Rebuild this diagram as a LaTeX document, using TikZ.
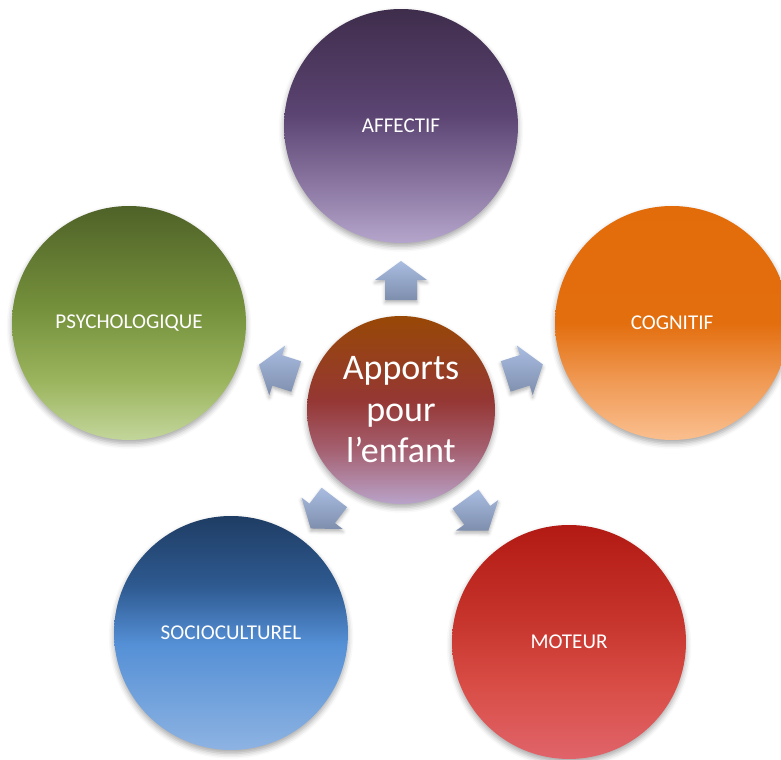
\documentclass[tikz,border=0pt]{standalone}
\usepackage{fontspec}
\setmainfont{Carlito}
\usepackage{tikz}
\usetikzlibrary{calc,shadows.blur}

% colours of the bubbles, top to bottom
\definecolor{affA}{HTML}{3F2D4C}
\definecolor{affB}{HTML}{5B4472}
\definecolor{affC}{HTML}{8B77A2}
\definecolor{affD}{HTML}{B5A5CB}
\definecolor{cogA}{HTML}{E36C0A}
\definecolor{cogB}{HTML}{E36E0E}
\definecolor{cogC}{HTML}{F09A55}
\definecolor{cogD}{HTML}{FABF8F}
\definecolor{psyA}{HTML}{4F6228}
\definecolor{psyB}{HTML}{76923C}
\definecolor{psyC}{HTML}{9BB55E}
\definecolor{psyD}{HTML}{C3D69B}
\definecolor{socA}{HTML}{1F3D64}
\definecolor{socB}{HTML}{2E5A91}
\definecolor{socC}{HTML}{5590D6}
\definecolor{socD}{HTML}{8DB3E2}
\definecolor{motA}{HTML}{B21A13}
\definecolor{motB}{HTML}{C6342C}
\definecolor{motC}{HTML}{D94E47}
\definecolor{motD}{HTML}{E0646A}
\definecolor{hubA}{HTML}{984806}
\definecolor{hubB}{HTML}{953734}
\definecolor{hubC}{HTML}{A45E6E}
\definecolor{hubD}{HTML}{B9A3C9}
\definecolor{arrowtop}{HTML}{A9BDE1}
\definecolor{arrowbot}{HTML}{7E8EAD}

\pgfdeclareverticalshading{affshade}{100bp}{color(0bp)=(affD); color(25bp)=(affD); color(37.5bp)=(affC); color(52.5bp)=(affB); color(75bp)=(affA); color(100bp)=(affA)}
\pgfdeclareverticalshading{cogshade}{100bp}{color(0bp)=(cogD); color(25bp)=(cogD); color(37.5bp)=(cogC); color(50bp)=(cogB); color(75bp)=(cogA); color(100bp)=(cogA)}
\pgfdeclareverticalshading{psyshade}{100bp}{color(0bp)=(psyD); color(25bp)=(psyD); color(37.5bp)=(psyC); color(52.5bp)=(psyB); color(75bp)=(psyA); color(100bp)=(psyA)}
\pgfdeclareverticalshading{socshade}{100bp}{color(0bp)=(socD); color(25bp)=(socD); color(47.5bp)=(socC); color(60bp)=(socB); color(75bp)=(socA); color(100bp)=(socA)}
\pgfdeclareverticalshading{motshade}{100bp}{color(0bp)=(motD); color(25bp)=(motD); color(40bp)=(motC); color(55bp)=(motB); color(75bp)=(motA); color(100bp)=(motA)}
\pgfdeclareverticalshading{hubshade}{100bp}{color(0bp)=(hubD); color(25bp)=(hubD); color(40bp)=(hubC); color(52.5bp)=(hubB); color(75bp)=(hubA); color(100bp)=(hubA)}

\begin{document}
\begin{tikzpicture}[x=0.02cm, y=0.02cm,
		bubble/.style={circle, shade, minimum size=4.68cm, inner sep=0pt, text=white,
			font=\fontsize{12}{14}\selectfont,
			blur shadow={shadow xshift=0pt, shadow yshift=-2pt, shadow blur radius=3pt, shadow opacity=35}},
		hub/.style={bubble, minimum size=3.76cm, align=center, font=\fontsize{20.5}{23.6}\selectfont}]
		\useasboundingbox (0,0) rectangle (781,760);
		\node[bubble, shading=affshade] (affectif) at (401,634) {AFFECTIF};
		\node[bubble, shading=cogshade] (cognitif) at (672,437) {COGNITIF};
		\node[bubble, shading=motshade] (moteur) at (569,118) {MOTEUR};
		\node[bubble, shading=socshade] (socio) at (231,127) {SOCIOCULTUREL};
		\node[bubble, shading=psyshade] (psycho) at (129,437) {PSYCHOLOGIQUE};
		\node[hub, shading=hubshade] (hub) at (401,350) {Apports\\pour\\l’enfant};
%		block arrows from the hub outwards
		\foreach \t in {affectif,cognitif,moteur,socio,psycho} {
			\shade[top color=arrowtop, bottom color=arrowbot,
				blur shadow={shadow xshift=0pt, shadow yshift=-1.5pt, shadow blur radius=2pt, shadow opacity=30}]
				($(hub)!2.2cm!(\t)!0.32cm!90:(\t)$) -- ($(hub)!2.6cm!(\t)!0.32cm!90:(\t)$)
				-- ($(hub)!2.6cm!(\t)!0.52cm!90:(\t)$) -- ($(hub)!2.98cm!(\t)$)
				-- ($(hub)!2.6cm!(\t)!0.52cm!-90:(\t)$) -- ($(hub)!2.6cm!(\t)!0.32cm!-90:(\t)$)
				-- ($(hub)!2.2cm!(\t)!0.32cm!-90:(\t)$) -- cycle;
		}
	\end{tikzpicture}
\end{document}
